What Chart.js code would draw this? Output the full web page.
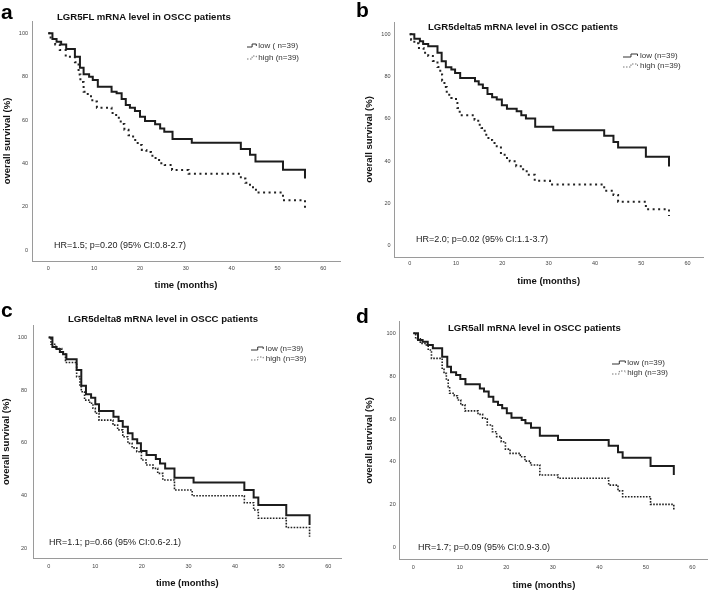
<!DOCTYPE html>
<html>
<head>
<meta charset="utf-8">
<script src="https://cdn.jsdelivr.net/npm/chart.js@4.4.1/dist/chart.umd.min.js"></script>
<style>
  html, body { margin:0; padding:0; background:#fff; }
  body { width:709px; height:591px; position:relative; overflow:hidden; font-family:"Liberation Sans", Arial, sans-serif; color:#111; }
  canvas { position:absolute; }
  .t { position:absolute; white-space:nowrap; line-height:1; }
  .letter { font-weight:bold; font-size:21px; color:#000; }
  .ptitle { font-weight:bold; font-size:9.6px; color:#111; }
  .hr { font-size:9px; color:#222; transform:translateY(-50%); }
  .leg { font-size:8px; color:#333; transform:translateY(-50%); }
  svg { position:absolute; overflow:visible; }
</style>
</head>
<body>
<canvas id="ca" width="354" height="300" style="left:0;top:0"></canvas>
<canvas id="cb" width="355" height="300" style="left:354px;top:0"></canvas>
<canvas id="cc" width="354" height="301" style="left:0;top:290px"></canvas>
<canvas id="cd" width="355" height="301" style="left:354px;top:290px"></canvas>

<div class="t letter" style="left:1px;top:1px">a</div>
<div class="t letter" style="left:356px;top:-1px">b</div>
<div class="t letter" style="left:1px;top:299px">c</div>
<div class="t letter" style="left:356px;top:305px">d</div>

<div class="t ptitle" style="left:57px;top:12px">LGR5FL mRNA level in OSCC patients</div>
<div class="t ptitle" style="left:428px;top:22px">LGR5delta5 mRNA level in OSCC patients</div>
<div class="t ptitle" style="left:68px;top:314px">LGR5delta8 mRNA level in OSCC patients</div>
<div class="t ptitle" style="left:448px;top:323px">LGR5all mRNA level in OSCC patients</div>

<div class="t hr" style="left:54px;top:245px">HR=1.5; p=0.20 (95% CI:0.8-2.7)</div>
<div class="t hr" style="left:416px;top:239px">HR=2.0; p=0.02 (95% CI:1.1-3.7)</div>
<div class="t hr" style="left:49px;top:542px">HR=1.1; p=0.66 (95% CI:0.6-2.1)</div>
<div class="t hr" style="left:418px;top:547px">HR=1.7; p=0.09 (95% CI:0.9-3.0)</div>

<div id="legends"></div>

<script>
// ---------- DATA (time in months, overall survival in %) ----------
const xTicks = [0, 10, 20, 30, 40, 50, 60];
const yTicks = [0, 20, 40, 60, 80, 100];
const yTicksC = [20, 40, 60, 80, 100];
const lowLabels = ["low ( n=39)", "low (n=39)", "low (n=39)", "low (n=39)"];
const highLabels = ["high (n=39)", "high (n=39)", "high (n=39)", "high (n=39)"];

// Panel a: LGR5FL
const aLowT  = [0, 0.9, 1.8, 2.8, 3.9, 5.8, 6.9, 7.7, 8.9, 9.7, 10.8, 13.8, 14.9, 16, 16.9, 17.8, 18.9, 20, 21.1, 23.3, 24.4, 25.3, 27.1, 31.3, 42, 44, 45.2, 51.2, 56];
const aLowS  = [100, 97.4, 96.1, 94.9, 92.8, 89.2, 84.1, 81.1, 80, 78.5, 75.4, 73.1, 72.3, 69.7, 66.9, 65.7, 64.1, 61.5, 59.5, 58, 56.1, 54.6, 51.2, 49.5, 46.6, 44, 40.9, 37, 33];
const aHighT = [0, 0.5, 1.5, 2.5, 3.8, 5.8, 6.6, 7.0, 7.7, 8.6, 9.6, 10.6, 13.8, 14.8, 15.8, 16.6, 17.5, 18.5, 19.5, 20.4, 21.4, 22.4, 23.4, 24.4, 25.4, 27.0, 30.6, 42.0, 43.0, 44.0, 45.3, 51.2, 56];
const aHighS = [100, 97.4, 94.9, 92.3, 89.2, 86.7, 81, 77.5, 73.1, 71.0, 68.5, 65.7, 63.2, 61, 58.2, 55.5, 53, 50.8, 48.5, 46.2, 45.2, 43.5, 41.5, 40, 39.2, 36.9, 35.2, 33, 31, 29, 26.5, 23, 19.5];

// Panel b: LGR5delta5
const bLowT  = [0, 1.0, 2.2, 2.9, 4.0, 6.0, 6.9, 7.8, 9.0, 9.8, 10.9, 14.1, 14.9, 15.8, 16.8, 17.8, 18.8, 19.9, 21.0, 23.1, 24.1, 25.1, 27.1, 31.0, 42.0, 44.0, 45.0, 51.0, 56];
const bLowS  = [100, 97.9, 96.7, 95.4, 94.3, 91.2, 87.2, 84.4, 83.3, 81.7, 79.3, 77.8, 76.2, 74.6, 71.8, 70.2, 69.1, 66.4, 64.8, 63.6, 61.7, 60.1, 56.3, 54.6, 52, 49, 46.4, 42.1, 37.5];
const bHighT = [0, 0.3, 1.0, 2.0, 3.0, 4.0, 5.0, 6.0, 6.6, 7.0, 7.5, 8.0, 9.0, 10.0, 10.3, 10.8, 14.0, 14.8, 15.5, 16.2, 17.0, 17.8, 18.8, 19.7, 20.5, 21.6, 23.0, 24.5, 25.5, 27.0, 30.3, 42.0, 44.0, 45.0, 51.0, 56];
const bHighS = [100, 97.4, 95.7, 93.5, 91.2, 89.7, 87.4, 84.5, 81, 78, 75, 71.4, 69.9, 67.5, 65.1, 61.7, 59.6, 57.2, 55.7, 52.5, 50, 48.6, 47, 43, 41.5, 39.9, 37.6, 35.2, 33.6, 30.7, 29, 26, 24, 20.8, 17.2, 14];

// Panel c: LGR5delta8
const cLowT  = [0, 0.8, 1.7, 2.4, 3.1, 3.8, 6.0, 7.0, 8.0, 9.1, 10.0, 10.8, 13.9, 15.0, 15.9, 17.0, 18.0, 19.0, 19.8, 21.0, 23.0, 23.9, 25.0, 27.0, 31.1, 42.0, 44.0, 45.0, 51.0, 56];
const cLowS  = [100, 96.4, 95.6, 94.5, 93.6, 91.7, 87.6, 81.7, 78.4, 77.1, 74.6, 72.1, 69.9, 68.3, 66.1, 63.6, 61.4, 59.8, 56.9, 55.4, 53.9, 52.2, 50.3, 46.8, 45.0, 42.1, 39.3, 36.4, 32.5, 28.8];
const cHighT = [0, 0.5, 1.5, 2.8, 3.6, 6.0, 6.7, 7.0, 7.7, 8.8, 9.5, 10.0, 10.8, 13.8, 14.8, 15.9, 17.0, 17.9, 18.9, 19.9, 20.9, 22.4, 23.4, 24.5, 27.0, 30.8, 42.0, 44.0, 45.0, 51.0, 56];
const cHighS = [100, 97.4, 95.8, 93.8, 90.5, 85.1, 81.3, 79.4, 76.2, 75.0, 73.1, 71.2, 68.6, 66.7, 64.9, 62.3, 59.8, 58.1, 56.6, 53.5, 51.6, 50.3, 48.4, 45.9, 42.1, 39.9, 37.3, 34.5, 31.4, 27.9, 24.4];

// Panel d: LGR5all
const dLowT  = [0, 1.0, 2.0, 3.1, 4.2, 6.2, 7.3, 8.1, 9.2, 10.1, 11.2, 14.3, 15.2, 16.2, 17.2, 18.2, 19.1, 20.1, 21.1, 23.3, 24.1, 25.3, 27.2, 31.1, 42.0, 44.0, 45.0, 51.0, 56];
const dLowS  = [100, 96.9, 96.1, 94.5, 93.0, 89.1, 84.4, 81.8, 80.5, 78.7, 76.2, 74.3, 72.8, 70.4, 68.1, 66.6, 65.0, 62.7, 60.6, 59.6, 58.0, 56.0, 52.2, 50.2, 47.6, 44.5, 42.0, 38.1, 33.9];
const dHighT = [0, 0.5, 1.5, 2.5, 3.2, 3.9, 6.2, 6.6, 7.1, 7.5, 7.8, 8.8, 9.5, 10.2, 11.1, 13.9, 14.9, 15.9, 17.0, 17.9, 18.9, 19.8, 20.8, 23.0, 24.0, 25.2, 27.2, 31.1, 42.0, 44.0, 45.0, 51.0, 56];
const dHighS = [100, 97.4, 95.3, 94.5, 92.2, 88.3, 83.7, 81.3, 78.2, 75.1, 72.0, 70.9, 68.9, 66.6, 63.8, 62.2, 60.4, 57.2, 54.1, 51.8, 49.4, 46.0, 44.0, 42.4, 40.4, 38.6, 33.9, 32.4, 29.2, 26.5, 23.8, 20.2, 17.6];

// ---------- helpers ----------
const FONT = '"Liberation Sans", Arial, sans-serif';
function pts(t, s) { return t.map((v, i) => ({x: v, y: s[i]})); }

function makeChart(id, cfg) {
  const dense = cfg.dense;
  new Chart(document.getElementById(id), {
    type: 'line',
    data: {
      datasets: [
        { label: 'low', data: pts(cfg.lowT, cfg.lowS), stepped: 'before', borderColor: '#1c1c1c', borderWidth: 2, pointRadius: 0, fill: false, tension: 0 },
        { label: 'high', data: pts(cfg.highT, cfg.highS), stepped: 'before', borderColor: '#222', borderWidth: dense ? 1.6 : 2, borderDash: dense ? [1.6, 1.4] : [2, 3.5], pointRadius: 0, fill: false, tension: 0 }
      ]
    },
    options: {
      responsive: false,
      animation: false,
      events: [],
      layout: { padding: { left: 0, top: cfg.top, right: cfg.right, bottom: 0 } },
      plugins: { legend: { display: false }, tooltip: { enabled: false }, title: { display: false } },
      scales: {
        x: {
          type: 'linear', min: cfg.xmin, max: cfg.xmax,
          afterBuildTicks: (s) => { s.ticks = xTicks.map(v => ({value: v})); },
          afterFit: (s) => { s.height = cfg.xh; },
          grid: { display: false, drawTicks: false },
          border: { display: true, color: '#9a9a9a', width: 1 },
          ticks: { padding: cfg.xpad, color: '#444', font: { family: FONT, size: 5.5 }, maxRotation: 0, autoSkip: false },
          title: { display: true, text: cfg.xtitle, color: '#111', font: { family: FONT, size: 9.5, weight: 'bold' }, padding: { top: 0, bottom: cfg.xtp } }
        },
        y: {
          type: 'linear', min: cfg.ymin, max: cfg.ymax,
          afterBuildTicks: (s) => { s.ticks = cfg.yt.map(v => ({value: v})); },
          afterFit: (s) => { s.width = cfg.yw; },
          grid: { display: false, drawTicks: false },
          border: { display: true, color: '#9a9a9a', width: 1 },
          ticks: { padding: cfg.ypad, color: '#444', font: { family: FONT, size: 5.5 }, autoSkip: false },
          title: { display: true, text: 'overall survival (%)', color: '#111', font: { family: FONT, size: 9.5, weight: 'bold' }, padding: { top: cfg.ytp, bottom: 0 } }
        }
      }
    }
  });
}

makeChart('ca', { lowT: aLowT, lowS: aLowS, highT: aHighT, highS: aHighS, dense: false,
  top: 21, right: 14, xh: 39, yw: 32, xmin: -3.56, xmax: 63.64, ymin: -5.08, ymax: 105.7, yt: yTicks,
  xpad: 4, ypad: 4, xtp: 9.3, ytp: 1.8, xtitle: 'time (months)' });
makeChart('cb', { lowT: bLowT, lowS: bLowS, highT: bHighT, highS: bHighS, dense: false,
  top: 22, right: 5.7, xh: 43, yw: 40, xmin: -3.39, xmax: 63.4, ymin: -5.35, ymax: 105.8, yt: yTicks,
  xpad: 3, ypad: 3.5, xtp: 13.3, ytp: 9.3, xtitle: 'time (months)' });
makeChart('cc', { lowT: cLowT, lowS: cLowS, highT: cHighT, highS: cHighS, dense: true,
  top: 35, right: 12.3, xh: 32.7, yw: 33, xmin: -3.37, xmax: 62.9, ymin: 16.2, ymax: 104.7, yt: yTicksC,
  xpad: 4.4, ypad: 6, xtp: 2, ytp: 0.3, xtitle: 'time (months)' });
makeChart('cd', { lowT: dLowT, lowS: dLowS, highT: dHighT, highS: dHighS, dense: true,
  top: 31.7, right: 1.7, xh: 31.7, yw: 45, xmin: -3.08, xmax: 63.2, ymin: -5.4, ymax: 105.4, yt: yTicks,
  xpad: 4.7, ypad: 3.3, xtp: 0.3, ytp: 9.3, xtitle: 'time (months)       ' });

// ---------- legends ----------
const legendPos = [
  { gx: 246.5, tx: 258.3, ly: 46, hy: 57.7 },
  { gx: 623, tx: 640, ly: 55.5, hy: 65.5 },
  { gx: 251, tx: 265.7, ly: 349.3, hy: 359 },
  { gx: 611.5, tx: 627.3, ly: 363.3, hy: 372.7 }
];
const legHost = document.getElementById('legends');
legendPos.forEach((p, i) => {
  const w = p.tx - p.gx - 2.5;
  legHost.insertAdjacentHTML('beforeend',
    `<svg style="left:${p.gx}px;top:${p.ly - 3}px" width="${w}" height="5"><path d="M0 4 H${w*0.55} V1 H${w} V3" fill="none" stroke="#333" stroke-width="1"/></svg>` +
    `<svg style="left:${p.gx}px;top:${p.hy - 3}px" width="${w}" height="5"><path d="M0 4 H${w*0.55} V1 H${w} V3" fill="none" stroke="#777" stroke-width="1" stroke-dasharray="1.5 1.5"/></svg>` +
    `<div class="t leg" style="left:${p.tx}px;top:${p.ly}px">${lowLabels[i]}</div>` +
    `<div class="t leg" style="left:${p.tx}px;top:${p.hy}px">${highLabels[i]}</div>`);
});
</script>
</body>
</html>
